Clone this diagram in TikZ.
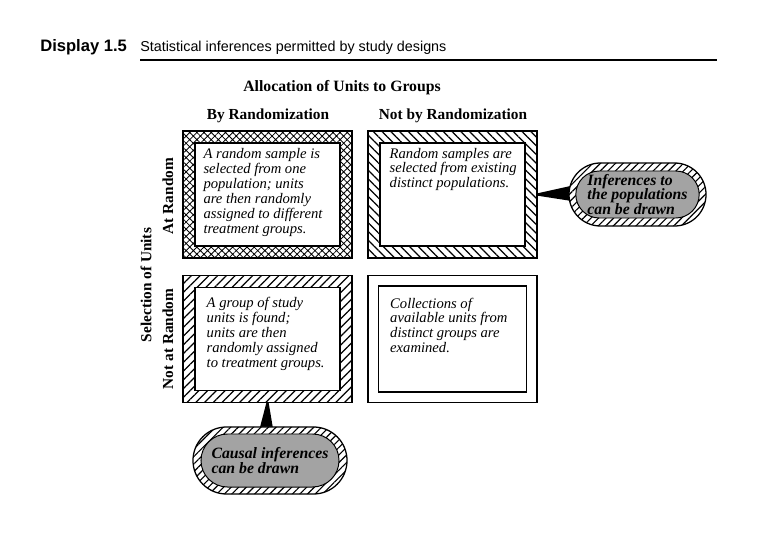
\documentclass[tikz,border=0pt]{standalone}
\usepackage{fontspec}
\setmainfont{Liberation Serif}
\setsansfont{Liberation Sans}
\usetikzlibrary{patterns.meta,shapes.misc,positioning}

\begin{document}
\begin{tikzpicture}[x=0.025cm,y=-0.025cm,
  outbox/.style={draw,line width=0.9pt,minimum width=4.225cm,minimum height=3.175cm,inner sep=0pt},
  inbox/.style={draw,fill=white,line width=0.8pt,minimum width=3.625cm,minimum height=2.575cm,inner sep=0pt},
  boxtext/.style={font=\fontsize{10.4}{10.6}\selectfont\itshape,align=left,inner sep=0pt,anchor=north west},
  head/.style={font=\fontsize{10.9}{12}\selectfont\bfseries},
  blob/.style={rounded rectangle,draw,line width=0.9pt,inner sep=0pt,preaction={fill=white},
    pattern={Lines[angle=45,distance=3.8pt,line width=0.8pt]}},
  blobin/.style={rounded rectangle,draw,fill=black!36,line width=0.7pt,inner sep=0pt,align=left,
    font=\fontsize{11.2}{10.4}\selectfont\bfseries\itshape},
]
\useasboundingbox (0,0) rectangle (768,537);

% title
\node[anchor=base west,inner sep=0pt,font=\sffamily\bfseries\fontsize{11.8}{12}\selectfont] (disp) at (40,52) {Display 1.5};
\node[anchor=base west,inner sep=0pt,font=\sffamily\fontsize{10.2}{12}\selectfont] (ttl) at (140,52) {Statistical inferences permitted by study designs};
\draw[line width=0.8pt] (140,60) -- (717,60);

% headings
\node[head,font=\fontsize{11.2}{12}\selectfont\bfseries] (alloc) at (342,88) {Allocation of Units to Groups};
\node[head] (byrand) at (268,116) {By Randomization};
\node[head] (notby) at (453,116) {Not by Randomization};
\node[head,rotate=90] (sel) at (146,285) {Selection of Units};
\node[head,rotate=90] (atrand) at (168,196) {At Random};
\node[head,rotate=90] (notat) at (168,339) {Not at Random};

% the four cells
\node[outbox,pattern={Hatch[angle=45,distance=3.6pt,line width=0.6pt]}] (rrout) at (267.5,194.5) {};
\node[inbox] (rr) at (rrout) {};
\node[boxtext,below right=0.15cm and 0.22cm of rr.north west] (rrtxt) {A random sample is\\selected from one\\population; units\\are then randomly\\assigned to different\\treatment groups.};

\node[outbox,pattern={Lines[angle=-45,distance=4.4pt,line width=0.8pt]}] (rnout) at (452.5,194.5) {};
\node[inbox] (rn) at (rnout) {};
\node[boxtext,below right=0.13cm and 0.25cm of rn.north west] (rntxt) {Random samples are\\selected from existing\\distinct populations.};

\node[outbox,pattern={Lines[angle=45,distance=4.4pt,line width=0.8pt]}] (nrout) at (267.5,339) {};
\node[inbox] (nr) at (nrout) {};
\node[boxtext,below right=0.25cm and 0.3cm of nr.north west] (nrtxt) {A group of study\\units is found;\\units are then\\randomly assigned\\to treatment groups.};

\node[outbox] (nnout) at (452.5,339) {};
\node[inbox,minimum width=3.7cm,minimum height=2.65cm] (nn) at (nnout) {};
\node[boxtext,below right=0.3cm and 0.3cm of nn.north west] (nntxt) {Collections of\\available units from\\distinct groups are\\examined.};

% pointers
\fill ([yshift=0.03cm]rnout.east) -- ++(0.9cm,0.2cm) -- ++(0,-0.4cm) -- ([yshift=-0.03cm]rnout.east) -- cycle;
\fill ([xshift=-0.03cm]nrout.south) -- ++(-0.17cm,-0.65cm) -- ++(0.34cm,0) -- ([xshift=0.03cm]nrout.south) -- cycle;

% conclusions
\node[blob,minimum width=3.425cm,minimum height=1.575cm] (popout) at (637.5,194.5) {};
\node[blobin,minimum width=2.975cm,minimum height=1.175cm] (pop) at (popout) {Inferences to\\the populations\\can be drawn};

\node[blob,minimum width=3.85cm,minimum height=1.675cm] (causout) at (270,460.5) {};
\node[blobin,minimum width=3.45cm,minimum height=1.325cm] (caus) at (causout) {Causal inferences\\can be drawn};
\end{tikzpicture}
\end{document}
